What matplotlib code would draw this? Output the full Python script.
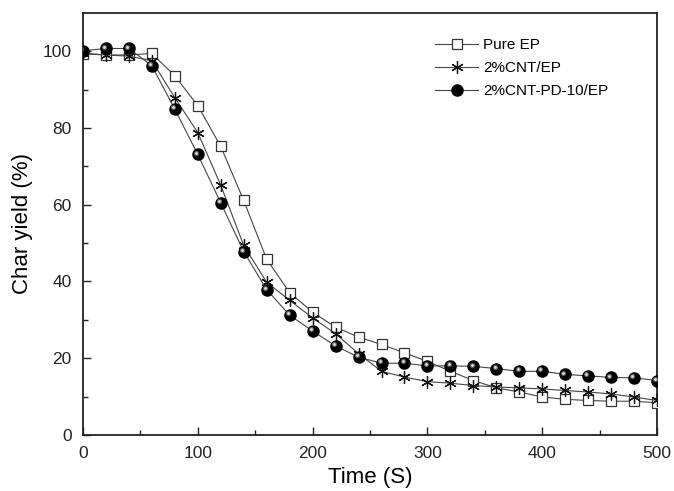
import matplotlib.pyplot as plt
import matplotlib.transforms as mtransforms
import numpy as np

plt.rcParams['font.family'] = ['Liberation Sans', 'DejaVu Sans']

# --- datos ---
tiempo = np.arange(0, 501, 20)

pure_ep = [99.3, 99.0, 99.0, 99.4, 93.6, 85.8, 75.2, 61.1, 45.8, 37.1,
           32.0, 28.1, 25.5, 23.6, 21.4, 19.2, 16.6, 14.2, 12.3, 11.2,
           9.9, 9.3, 9.0, 8.8, 8.8, 8.4]
cnt_ep = [99.5, 99.0, 98.7, 97.5, 87.9, 78.8, 65.1, 49.4, 39.8, 35.1,
          30.5, 26.4, 21.2, 16.6, 15.1, 13.9, 13.5, 12.9, 12.5, 12.3,
          12.0, 11.6, 11.2, 10.7, 9.9, 9.0]
cnt_pd_ep = [100.1, 100.7, 100.7, 96.2, 84.9, 73.1, 60.5, 47.8, 37.9, 31.2,
             27.1, 23.2, 20.3, 18.7, 18.7, 18.0, 18.0, 17.9, 17.3, 16.6,
             16.6, 15.8, 15.4, 15.0, 14.9, 14.2]

etiquetas = ['Pure EP', '2%CNT/EP', '2%CNT-PD-10/EP']

fig = plt.figure(figsize=(6.74, 4.91), dpi=100)
ax = fig.add_axes([0.123, 0.114, 0.852, 0.860])

color_linea = '#444444'

ax.plot(tiempo, pure_ep, color=color_linea, lw=0.8, marker='s', ms=6.5,
        mfc='white', mec='#333333', mew=0.9, label=etiquetas[0], zorder=3)
ax.plot(tiempo, cnt_ep, color=color_linea, lw=0.8, marker=(6, 2, 0), ms=9,
        mec='#111111', mew=0.9, label=etiquetas[1], zorder=4)
ax.plot(tiempo, cnt_pd_ep, color=color_linea, lw=0.8, marker='o', ms=8,
        mfc='black', mec='black', label=etiquetas[2], zorder=5)

# brillo de las esferas
brillo = mtransforms.offset_copy(ax.transData, fig=fig, x=-1.3, y=1.3, units='points')
ax.plot(tiempo, cnt_pd_ep, ls='none', marker='o', ms=3.8, mfc='#5a5a5a',
        mec='none', transform=brillo, zorder=6)
ax.plot(tiempo, cnt_pd_ep, ls='none', marker='o', ms=2.0, mfc='#e0e0e0',
        mec='none', transform=brillo, zorder=7)

ax.set_xlim(0, 500)
ax.set_ylim(0, 110)
ax.set_xticks([0, 100, 200, 300, 400, 500])
ax.set_xticks(np.arange(50, 500, 100), minor=True)
ax.set_yticks([0, 20, 40, 60, 80, 100])
ax.set_yticks(np.arange(10, 110, 20), minor=True)

ax.tick_params(which='both', direction='in', top=False, right=False,
               labelsize=12.5, width=1.0, colors='#222222', pad=8)
ax.tick_params(which='major', length=6)
ax.tick_params(which='minor', length=3.5)
for s in ax.spines.values():
    s.set_linewidth(1.3)
    s.set_color('#222222')

ax.set_xlabel('Time (S)', fontsize=16, labelpad=4.5)
ax.set_ylabel('Char yield (%)', fontsize=16, labelpad=7)

ax.legend(loc='upper left', bbox_to_anchor=(0.59, 0.973), frameon=False,
          fontsize=11, handlelength=2.8, handletextpad=0.3, labelspacing=0.6)

fig.savefig('out.png', dpi=100)
